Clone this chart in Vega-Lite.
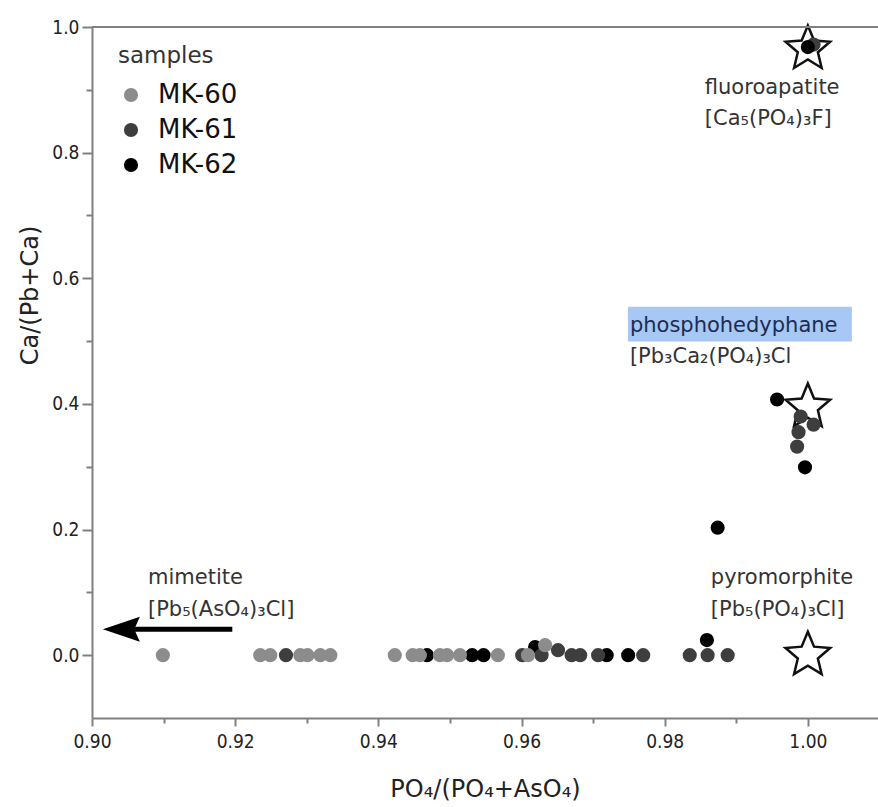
{
  "$schema": "https://vega.github.io/schema/vega-lite/v6.json",
  "width": 786,
  "height": 691,
  "autosize": "none",
  "padding": {"left": 92, "top": 27, "right": 0, "bottom": 89},
  "background": "white",
  "config": {
    "view": {"stroke": null},
    "font": "DejaVu Sans",
    "axis": {"grid": false, "domainColor": "#808080", "domainWidth": 2, "tickColor": "#808080", "tickWidth": 2, "labelColor": "#222", "titleColor": "#222", "titleFontWeight": "normal", "labelFlush": false}
  },
  "datasets": {
    "pts": [
      {"x": 1.0008, "y": 0.972, "sample": "MK-61"},
      {"x": 0.9468, "y": 0, "sample": "MK-62"},
      {"x": 0.9531, "y": 0, "sample": "MK-62"},
      {"x": 0.9547, "y": 0, "sample": "MK-62"},
      {"x": 0.9619, "y": 0.013, "sample": "MK-62"},
      {"x": 0.9719, "y": 0, "sample": "MK-62"},
      {"x": 0.9749, "y": 0, "sample": "MK-62"},
      {"x": 0.9859, "y": 0.024, "sample": "MK-62"},
      {"x": 0.9874, "y": 0.203, "sample": "MK-62"},
      {"x": 0.9957, "y": 0.407, "sample": "MK-62"},
      {"x": 0.9996, "y": 0.299, "sample": "MK-62"},
      {"x": 1.0, "y": 0.968, "sample": "MK-62"},
      {"x": 0.9271, "y": 0, "sample": "MK-61"},
      {"x": 0.9601, "y": 0, "sample": "MK-61"},
      {"x": 0.9628, "y": 0, "sample": "MK-61"},
      {"x": 0.9651, "y": 0.008, "sample": "MK-61"},
      {"x": 0.967, "y": 0, "sample": "MK-61"},
      {"x": 0.9682, "y": 0, "sample": "MK-61"},
      {"x": 0.9707, "y": 0, "sample": "MK-61"},
      {"x": 0.977, "y": 0, "sample": "MK-61"},
      {"x": 0.9835, "y": 0, "sample": "MK-61"},
      {"x": 0.986, "y": 0, "sample": "MK-61"},
      {"x": 0.9888, "y": 0, "sample": "MK-61"},
      {"x": 0.999, "y": 0.38, "sample": "MK-61"},
      {"x": 1.0008, "y": 0.367, "sample": "MK-61"},
      {"x": 0.9987, "y": 0.355, "sample": "MK-61"},
      {"x": 0.9985, "y": 0.332, "sample": "MK-61"},
      {"x": 0.9099, "y": 0, "sample": "MK-60"},
      {"x": 0.9235, "y": 0, "sample": "MK-60"},
      {"x": 0.9249, "y": 0, "sample": "MK-60"},
      {"x": 0.9291, "y": 0, "sample": "MK-60"},
      {"x": 0.9301, "y": 0, "sample": "MK-60"},
      {"x": 0.9319, "y": 0, "sample": "MK-60"},
      {"x": 0.9333, "y": 0, "sample": "MK-60"},
      {"x": 0.9423, "y": 0, "sample": "MK-60"},
      {"x": 0.9448, "y": 0, "sample": "MK-60"},
      {"x": 0.9458, "y": 0, "sample": "MK-60"},
      {"x": 0.9486, "y": 0, "sample": "MK-60"},
      {"x": 0.9496, "y": 0, "sample": "MK-60"},
      {"x": 0.9514, "y": 0, "sample": "MK-60"},
      {"x": 0.9567, "y": 0, "sample": "MK-60"},
      {"x": 0.9609, "y": 0, "sample": "MK-60"},
      {"x": 0.9633, "y": 0.016, "sample": "MK-60"}
    ],
    "stars": [
      {"x": 1.0, "y": 0.965, "mineral": "fluoroapatite"},
      {"x": 1.0, "y": 0.395, "mineral": "phosphohedyphane"},
      {"x": 1.0, "y": 0.0, "mineral": "pyromorphite"}
    ],
    "labels": [
      {"x": 0.98561, "y": 0.903, "text": "fluoroapatite"},
      {"x": 0.98561, "y": 0.854, "text": "[Ca₅(PO₄)₃F]"},
      {"x": 0.97514, "y": 0.5246, "text": "phosphohedyphane"},
      {"x": 0.97514, "y": 0.4754, "text": "[Pb₃Ca₂(PO₄)₃Cl"},
      {"x": 0.98645, "y": 0.1224, "text": "pyromorphite"},
      {"x": 0.98645, "y": 0.0715, "text": "[Pb₅(PO₄)₃Cl]"},
      {"x": 0.90782, "y": 0.1224, "text": "mimetite"},
      {"x": 0.90782, "y": 0.0715, "text": "[Pb₅(AsO₄)₃Cl]"}
    ],
    "box": [{"x": 0.97486, "x2": 1.00615, "y": 0.5548, "y2": 0.4992}],
    "shaft": [{"x": 0.9057, "x2": 0.9196, "y": 0.0413}],
    "head": [{"x": 0.9041, "y": 0.0413}]
  },
  "resolve": {"axis": {"x": "independent", "y": "independent"}},
  "layer": [
    {
      "data": {"name": "box"},
      "mark": {"type": "rect", "color": "#a7c7f4"},
      "encoding": {
        "x": {"field": "x", "type": "quantitative", "scale": {"domain": [0.9, 1.0098], "nice": false, "zero": false}, "axis": {"values": [0.9, 0.92, 0.94, 0.96, 0.98, 1.0], "format": ".2f", "tickSize": 8, "labelPadding": 6, "labelFlush": false, "labelFont": "DejaVu Sans Condensed", "labelFontSize": 19, "title": "PO₄/(PO₄+AsO₄)", "titleFontSize": 24, "titlePadding": 26, "titleFont": "DejaVu Sans"}},
        "x2": {"field": "x2"},
        "y": {"field": "y", "type": "quantitative", "scale": {"domain": [-0.1, 1.0], "nice": false, "zero": false}, "axis": {"values": [0, 0.2, 0.4, 0.6, 0.8, 1.0], "format": ".1f", "tickSize": 10, "labelPadding": 3, "labelFlush": false, "labelFont": "DejaVu Sans Condensed", "labelFontSize": 19, "title": "Ca/(Pb+Ca)", "titleFontSize": 24, "titlePadding": 9, "titleY": 268, "titleFont": "DejaVu Sans"}},
        "y2": {"field": "y2"}
      }
    },
    {
      "data": {"name": "stars"},
      "mark": {"type": "point", "shape": "M0,-1L0.265,-0.364L0.951,-0.309L0.428,0.139L0.588,0.809L0,0.45L-0.588,0.809L-0.428,0.139L-0.951,-0.309L-0.265,-0.364Z", "size": 2200, "filled": false, "stroke": "#111", "strokeWidth": 2.5, "opacity": 1},
      "encoding": {
        "x": {"field": "x", "type": "quantitative", "axis": {"values": [0.91, 0.93, 0.95, 0.97, 0.99], "labels": false, "domain": false, "tickSize": 5, "title": null, "orient": "bottom"}},
        "y": {"field": "y", "type": "quantitative", "axis": {"values": [0.1, 0.3, 0.5, 0.7, 0.9], "labels": false, "domain": false, "tickSize": 6, "title": null, "orient": "left"}}
      }
    },
    {
      "data": {"values": [{"v": 1}]},
      "mark": {"type": "rule", "color": "#808080", "strokeWidth": 2},
      "encoding": {"y": {"datum": 1.0, "type": "quantitative", "axis": null}}
    },
    {
      "data": {"name": "pts"},
      "mark": {"type": "circle", "size": 200, "opacity": 1},
      "encoding": {
        "x": {"field": "x", "type": "quantitative", "axis": null},
        "y": {"field": "y", "type": "quantitative", "axis": null},
        "color": {
          "field": "sample", "type": "nominal",
          "scale": {"domain": ["MK-60", "MK-61", "MK-62"], "range": ["#8c8c8c", "#3e3e3e", "#000000"]},
          "legend": {"orient": "none", "legendX": 26, "legendY": 18, "title": "samples", "titleFontSize": 23, "titleFontWeight": "normal", "titleColor": "#333", "titleFont": "DejaVu Sans", "titlePadding": 14, "labelFontSize": 26, "labelColor": "#111", "labelFont": "DejaVu Sans", "symbolSize": 200, "symbolType": "circle", "symbolStrokeWidth": 0, "symbolOpacity": 1, "rowPadding": 9, "labelOffset": 14, "padding": 0}
        }
      }
    },
    {
      "data": {"name": "labels"},
      "mark": {"type": "text", "align": "left", "baseline": "middle", "fontSize": 21, "font": "DejaVu Sans"},
      "encoding": {
        "x": {"field": "x", "type": "quantitative", "axis": null},
        "y": {"field": "y", "type": "quantitative", "axis": null},
        "text": {"field": "text"},
        "color": {"condition": {"test": "datum.text == 'phosphohedyphane'", "value": "#1b2c52"}, "value": "#333333"}
      }
    },
    {
      "data": {"name": "shaft"},
      "mark": {"type": "rule", "color": "#000", "strokeWidth": 5},
      "encoding": {
        "x": {"field": "x", "type": "quantitative", "axis": null},
        "x2": {"field": "x2"},
        "y": {"field": "y", "type": "quantitative", "axis": null}
      }
    },
    {
      "data": {"name": "head"},
      "mark": {"type": "point", "shape": "M-1,0L1,-0.68L0.7,0L1,0.68Z", "size": 1369, "filled": true, "color": "#000", "opacity": 1},
      "encoding": {
        "x": {"field": "x", "type": "quantitative", "axis": null},
        "y": {"field": "y", "type": "quantitative", "axis": null}
      }
    }
  ]
}
